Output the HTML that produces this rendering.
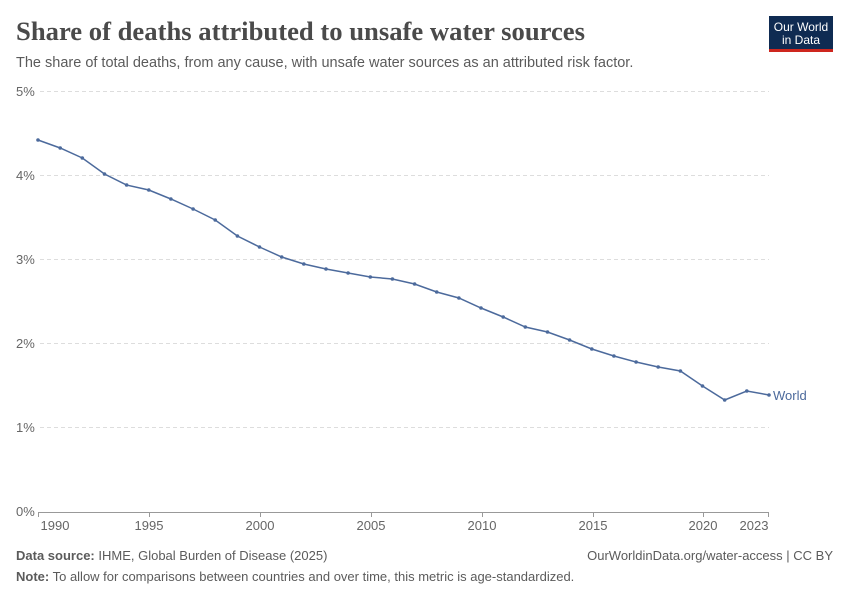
<!DOCTYPE html>
<html><head><meta charset="utf-8"><style>
body{margin:0;background:#fff;width:850px;height:600px;overflow:hidden;font-family:"Liberation Sans",sans-serif}
</style></head><body>
<svg width="850" height="600" xmlns="http://www.w3.org/2000/svg" style="position:absolute;left:0;top:0">
<text x="16" y="40" font-family="Liberation Serif,serif" font-size="26" font-weight="bold" fill="#4a4a4a" textLength="569" lengthAdjust="spacingAndGlyphs">Share of deaths attributed to unsafe water sources</text>
<text x="16" y="67" font-size="14.5" fill="#5b5b5b">The share of total deaths, from any cause, with unsafe water sources as an attributed risk factor.</text>
<rect x="769" y="16" width="64" height="34" fill="#0f2b52"/>
<rect x="769" y="49" width="64" height="3" fill="#ce261e"/>
<text x="801" y="31" font-size="12" fill="#fff" text-anchor="middle">Our World</text>
<text x="801" y="44" font-size="12" fill="#fff" text-anchor="middle">in Data</text>
<g stroke="#dddddd" stroke-dasharray="4,3" stroke-width="1">
<line x1="40" x2="769" y1="91.5" y2="91.5"/><line x1="40" x2="769" y1="175.5" y2="175.5"/>
<line x1="40" x2="769" y1="259.5" y2="259.5"/><line x1="40" x2="769" y1="343.5" y2="343.5"/>
<line x1="40" x2="769" y1="427.5" y2="427.5"/></g>
<line x1="38" x2="769" y1="512.5" y2="512.5" stroke="#999"/>
<g stroke="#999"><line x1="38.5" x2="38.5" y1="512" y2="517"/><line x1="149.5" x2="149.5" y1="512" y2="517"/><line x1="260.5" x2="260.5" y1="512" y2="517"/><line x1="371.5" x2="371.5" y1="512" y2="517"/><line x1="482.5" x2="482.5" y1="512" y2="517"/><line x1="593.5" x2="593.5" y1="512" y2="517"/><line x1="703.5" x2="703.5" y1="512" y2="517"/><line x1="768.5" x2="768.5" y1="512" y2="517"/></g>
<g font-size="13" fill="#666">
<text x="16" y="96">5%</text><text x="16" y="180">4%</text><text x="16" y="264">3%</text><text x="16" y="348">2%</text><text x="16" y="432">1%</text><text x="16" y="516">0%</text>
<g text-anchor="middle"><text x="55" y="530">1990</text><text x="149" y="530">1995</text><text x="260" y="530">2000</text><text x="371" y="530">2005</text><text x="482" y="530">2010</text><text x="593" y="530">2015</text><text x="703" y="530">2020</text><text x="754" y="530">2023</text></g>
</g>
<polyline fill="none" stroke="#4c6a9c" stroke-width="1.5" points="38,140 60.2,148 82.3,158 104.5,174 126.6,185 148.8,190 170.9,199 193.1,209 215.2,220 237.4,236 259.5,247 281.7,257 303.8,264 326,269 348.1,273 370.3,277 392.4,279 414.6,284 436.7,292 458.9,298 481,308 503.2,317 525.3,327 547.5,332 569.6,340 591.8,349 613.9,356 636.1,362 658.2,367 680.4,371 702.5,386 724.7,400 746.8,391 769,395"/>
<g fill="#4c6a9c">
<circle cx="38" cy="140" r="1.8"/><circle cx="60.2" cy="148" r="1.8"/><circle cx="82.3" cy="158" r="1.8"/><circle cx="104.5" cy="174" r="1.8"/><circle cx="126.6" cy="185" r="1.8"/><circle cx="148.8" cy="190" r="1.8"/><circle cx="170.9" cy="199" r="1.8"/><circle cx="193.1" cy="209" r="1.8"/><circle cx="215.2" cy="220" r="1.8"/><circle cx="237.4" cy="236" r="1.8"/><circle cx="259.5" cy="247" r="1.8"/><circle cx="281.7" cy="257" r="1.8"/><circle cx="303.8" cy="264" r="1.8"/><circle cx="326" cy="269" r="1.8"/><circle cx="348.1" cy="273" r="1.8"/><circle cx="370.3" cy="277" r="1.8"/><circle cx="392.4" cy="279" r="1.8"/><circle cx="414.6" cy="284" r="1.8"/><circle cx="436.7" cy="292" r="1.8"/><circle cx="458.9" cy="298" r="1.8"/><circle cx="481" cy="308" r="1.8"/><circle cx="503.2" cy="317" r="1.8"/><circle cx="525.3" cy="327" r="1.8"/><circle cx="547.5" cy="332" r="1.8"/><circle cx="569.6" cy="340" r="1.8"/><circle cx="591.8" cy="349" r="1.8"/><circle cx="613.9" cy="356" r="1.8"/><circle cx="636.1" cy="362" r="1.8"/><circle cx="658.2" cy="367" r="1.8"/><circle cx="680.4" cy="371" r="1.8"/><circle cx="702.5" cy="386" r="1.8"/><circle cx="724.7" cy="400" r="1.8"/><circle cx="746.8" cy="391" r="1.8"/><circle cx="769" cy="395" r="1.8"/>
</g>
<text x="773" y="400" font-size="13" fill="#4c6a9c">World</text>
<text x="16" y="560" font-size="13" fill="#5b5b5b"><tspan font-weight="bold">Data source:</tspan> IHME, Global Burden of Disease (2025)</text>
<text x="833" y="560" font-size="13" fill="#5b5b5b" text-anchor="end">OurWorldinData.org/water-access | CC BY</text>
<text x="16" y="581" font-size="13" fill="#5b5b5b"><tspan font-weight="bold">Note:</tspan> To allow for comparisons between countries and over time, this metric is age-standardized.</text>
</svg>
</body></html>
